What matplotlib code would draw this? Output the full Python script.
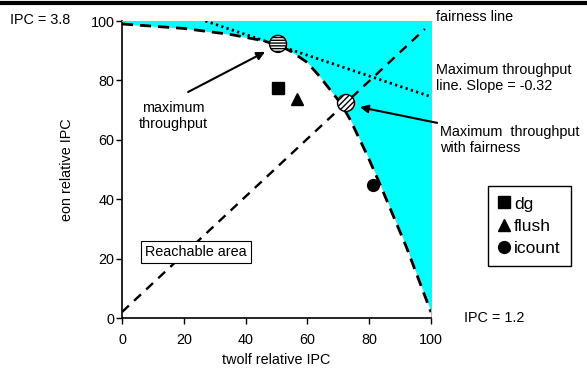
import matplotlib.pyplot as plt
from matplotlib.lines import Line2D

# boundary of the reachable area (twolf, eon relative IPC)
curve_x = [0, 20, 35, 45, 50.5, 55, 60, 64, 68, 71, 74, 79.5, 83.5, 92, 100]
curve_y = [99, 97.5, 95.5, 93.5, 92, 89.6, 86, 81.3, 76, 72, 66.5, 54.5, 45, 24, 2]

fair_x = [0, 98]
fair_y = [2, 97.3]

maxline_x = [27, 100]
maxline_y = [100, 74.5]

max_tp = (50.5, 92.3)
max_fair = (72.5, 72.4)

policies = ['dg', 'flush', 'icount']
policy_x = [50.5, 56.6, 81.1]
policy_y = [77.4, 73.7, 44.8]
policy_markers = ['s', '^', 'o']

plt.rcParams['font.family'] = ['Liberation Sans', 'DejaVu Sans']
plt.rcParams['font.size'] = 10.4
plt.rcParams['hatch.linewidth'] = 1.0


def main():
    fig = plt.figure(figsize=(5.87, 3.70), dpi=100)
    ax = fig.add_axes([0.2078, 0.1405, 0.5264, 0.8027])

    ax.fill_between(curve_x, curve_y, 100, color='#00ffff', lw=0, zorder=1)
    ax.plot(curve_x, curve_y, color='k', lw=2, dashes=(4, 2.5), zorder=3)
    ax.plot(fair_x, fair_y, color='k', lw=1.7, dashes=(4, 3), zorder=3)
    ax.plot(maxline_x, maxline_y, color='k', lw=2, dashes=(0.8, 1.2), zorder=3)

    ax.scatter(*max_tp, s=150, facecolor='white', edgecolor='k', hatch='------',
               lw=1, zorder=5)
    ax.scatter(*max_fair, s=150, facecolor='white', edgecolor='k', hatch='//////',
               lw=1, zorder=5)

    for name, x, y, m in zip(policies, policy_x, policy_y, policy_markers):
        ax.plot(x, y, marker=m, color='k', ms=8.5, ls='none', label=name, zorder=4)

    ax.set_xlim(0, 100)
    ax.set_ylim(0, 100)
    ax.set_xticks([0, 20, 40, 60, 80, 100])
    ax.set_yticks([0, 20, 40, 60, 80, 100])
    ax.tick_params(direction='out', length=4, width=1, labelsize=10.4)
    ax.tick_params(axis='x', pad=7)
    ax.tick_params(axis='y', pad=1.5)
    ax.spines['left'].set_linewidth(1.2)
    ax.spines['bottom'].set_linewidth(1.2)
    ax.spines['top'].set_color('#b0b0b0')
    ax.spines['right'].set_color('#b0b0b0')
    ax.set_xlabel('twolf relative IPC', labelpad=4)
    ax.set_ylabel('eon relative IPC', labelpad=12)

    ax.text(24, 22.2, 'Reachable area', ha='center', va='center',
            bbox=dict(boxstyle='square,pad=0.3', fc='white', ec='k', lw=0.8))
    ax.text(16.5, 68, 'maximum\nthroughput', ha='center', va='center',
            linespacing=1.2)
    ax.annotate('', xy=(46.3, 89.6), xytext=(21.4, 76.1),
                arrowprops=dict(arrowstyle='-|>', color='k', lw=1.5,
                                mutation_scale=12, shrinkA=0, shrinkB=0))
    ax.annotate('', xy=(77, 71), xytext=(102, 65.7), annotation_clip=False,
                arrowprops=dict(arrowstyle='-|>', color='k', lw=1.5,
                                mutation_scale=12, shrinkA=0, shrinkB=0))

    fig.text(436 / 587, 1 - 17 / 370, 'fairness line', va='center')
    fig.text(436 / 587, 1 - 78 / 370, 'Maximum throughput\nline. Slope = -0.32',
             va='center', linespacing=1.15)
    fig.text(440 / 587, 1 - 140 / 370, 'Maximum  throughput\nwith fairness',
             va='center', linespacing=1.15)
    fig.text(10 / 587, 1 - 20 / 370, 'IPC = 3.8', va='center')
    fig.text(464 / 587, 1 - 318 / 370, 'IPC = 1.2', va='center')

    fig.legend(loc='upper left', bbox_to_anchor=(488 / 587, 1 - 186 / 370),
               borderaxespad=0, frameon=True, fancybox=False, edgecolor='k',
               framealpha=1, handlelength=0.6, handletextpad=0.3,
               borderpad=0.6, labelspacing=0.4, fontsize=12.5)

    fig.add_artist(Line2D([0, 1], [1 - 3 / 370, 1 - 3 / 370], color='k', lw=3,
                          transform=fig.transFigure))

    fig.savefig('out.png', dpi=100)


if __name__ == '__main__':
    main()
